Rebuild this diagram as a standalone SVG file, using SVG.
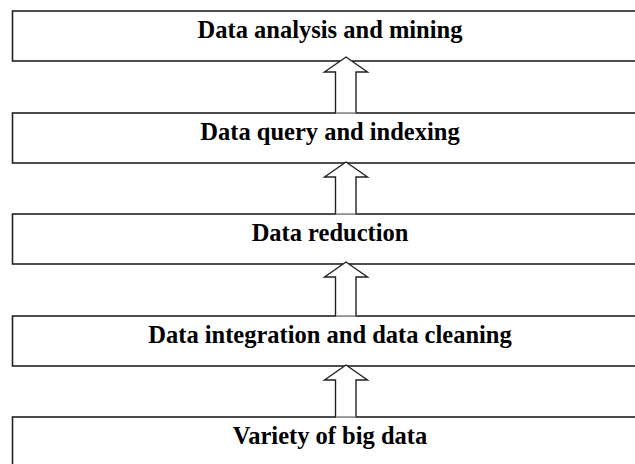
<svg xmlns="http://www.w3.org/2000/svg" width="635" height="464" viewBox="0 0 635 464">
<style>
.box{fill:#fff;stroke:#222;stroke-width:1.6}
.lbl{font-family:"Liberation Serif","Times New Roman",serif;font-weight:bold;font-size:24.5px;fill:#000;text-anchor:middle}
.arr{fill:#fff;stroke:#222;stroke-width:1.4;stroke-linejoin:miter}
.base{stroke:#999;stroke-width:1.8}
</style>
<rect width="635" height="464" fill="#fff"/>
<g id="n1"><rect class="box" x="12.5" y="11" width="640" height="50"/><text class="lbl" x="330" y="37.5">Data analysis and mining</text></g>
<g id="n2"><rect class="box" x="12.5" y="113" width="640" height="50"/><text class="lbl" x="330" y="139.5">Data query and indexing</text></g>
<g id="n3"><rect class="box" x="12.5" y="214" width="640" height="50"/><text class="lbl" x="330" y="240.5">Data reduction</text></g>
<g id="n4"><rect class="box" x="12.5" y="316" width="640" height="50"/><text class="lbl" x="330" y="342.5">Data integration and data cleaning</text></g>
<g id="n5"><rect class="box" x="12.5" y="417" width="640" height="60"/><text class="lbl" x="330" y="443.5">Variety of big data</text></g>
<g id="connectors">
<path class="arr" d="M335.5,113 L335.5,72 L324.5,72 L346,57 L367.5,72 L356,72 L356,113"/>
<line class="base" x1="336" y1="113" x2="355.5" y2="113"/>
<path class="arr" d="M335.5,214 L335.5,177 L324.5,177 L346,162 L367.5,177 L356,177 L356,214"/>
<line class="base" x1="336" y1="214" x2="355.5" y2="214"/>
<path class="arr" d="M335.5,316 L335.5,277 L324.5,277 L346,262 L367.5,277 L356,277 L356,316"/>
<line class="base" x1="336" y1="316" x2="355.5" y2="316"/>
<path class="arr" d="M335.5,417 L335.5,380 L324.5,380 L346,365 L367.5,380 L356,380 L356,417"/>
<line class="base" x1="336" y1="417" x2="355.5" y2="417"/>
</g>
</svg>
